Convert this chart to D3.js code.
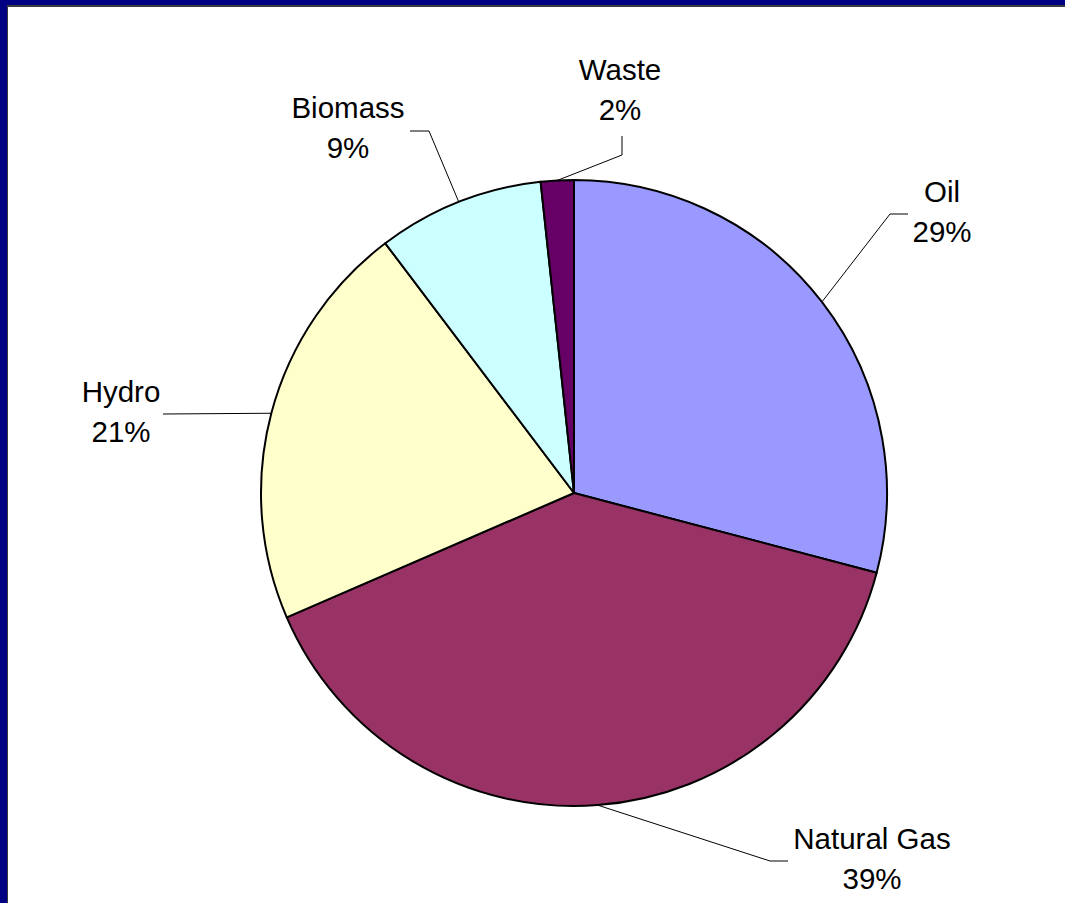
<!DOCTYPE html>
<html lang="en">
<head>
	<meta charset="UTF-8">
	<title>Energy mix pie</title>
	<style>
		html, body { margin: 0; padding: 0; background: #fff; overflow: hidden; }
		svg { display: block; }
		.lbl {
			font-family: "Liberation Sans", Arial, sans-serif;
			font-size: 29.5px;
			fill: #000;
		}
	</style>
	<script src="https://d3js.org/d3.v7.min.js"></script>
</head>
<body>
	<script type="text/javascript">

		// slices, clockwise from 12 o'clock
		var categories = ["Oil", "Natural Gas", "Hydro", "Biomass", "Waste"];
		var shares     = [29.1, 39.4, 21.2, 8.6, 1.7];
		var colors     = ["#9999ff", "#993366", "#ffffcc", "#ccffff", "#660066"];

		// label placement relative to pie centre: elbow of leader, end of leader, text centre
		var labelLayout = [
			{ elbow: [316, -279], end: [334, -279], text: [368, -291] },
			{ elbow: [196, 368],  end: [214, 368],  text: [298, 356] },
			{ elbow: [-411, -79], end: [-411, -79], text: [-453, -91] },
			{ elbow: [-145, -362], end: [-164, -362], text: [-226, -375] },
			{ elbow: [48, -338],  end: [48, -357],  text: [46, -413] }
		];

		const w = 1065,
			  h = 903;

		const svg = d3.select("body")
			        .append("svg")
			        .attr("width", w)
			        .attr("height", h);

		// blue frame (top and left only)
		svg.append("rect").attr("width", w).attr("height", h).attr("fill", "#000085");
		svg.append("rect").attr("x", 7).attr("y", 5).attr("width", w).attr("height", h).attr("fill", "#3a3a3a");
		svg.append("rect").attr("x", 8).attr("y", 7).attr("width", w).attr("height", h).attr("fill", "#ffffff");

		const cx = 574, cy = 493, r = 313;

		var data = categories.map((c, i) => ({ name: c, value: shares[i], color: colors[i], lay: labelLayout[i] }));

		var pie = d3.pie().sort(null).value(d => d.value);
		var arc = d3.arc().innerRadius(0).outerRadius(r);
		var arcs = pie(data);
		var total = d3.sum(shares);

		var g = svg.append("g").attr("transform", "translate(" + cx + "," + cy + ")");

		g.selectAll("path.slice")
		 .data(arcs).enter()
		 .append("path")
		 .attr("class", "slice")
		 .attr("d", arc)
		 .attr("fill", d => d.data.color)
		 .attr("stroke", "#000")
		 .attr("stroke-width", 2)
		 .attr("stroke-linejoin", "round");

		// leader lines
		g.selectAll("polyline")
		 .data(arcs).enter()
		 .append("polyline")
		 .attr("points", function(d) {
		 	var a = (d.startAngle + d.endAngle) / 2;
		 	var p0 = [r * Math.sin(a), -r * Math.cos(a)];
		 	return [p0, d.data.lay.elbow, d.data.lay.end].map(p => p.join(",")).join(" ");
		 })
		 .attr("fill", "none")
		 .attr("stroke", "#000")
		 .attr("stroke-width", 1);

		var txt = g.selectAll("text")
		 .data(arcs).enter()
		 .append("text")
		 .attr("class", "lbl")
		 .attr("text-anchor", "middle")
		 .attr("x", d => d.data.lay.text[0])
		 .attr("y", d => d.data.lay.text[1]);

		txt.append("tspan")
		   .attr("x", d => d.data.lay.text[0])
		   .text(d => d.data.name);
		txt.append("tspan")
		   .attr("x", d => d.data.lay.text[0])
		   .attr("dy", 39.5)
		   .text(d => Math.round(d.data.value / total * 100) + "%");

	</script>
</body>
</html>
